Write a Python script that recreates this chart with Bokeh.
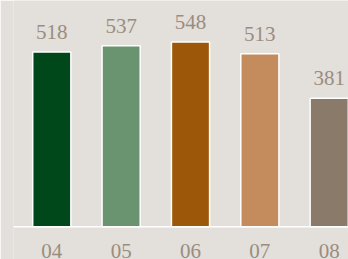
from bokeh.plotting import figure
from bokeh.models import ColumnDataSource, Range1d, Span
from bokeh.core.properties import value
from bokeh.embed import file_html
from bokeh.resources import INLINE

categories = ["04", "05", "06", "07", "08"]
values = [518, 537, 548, 513, 381]
colors = ["#00471A", "#6A9370", "#9C5708", "#C48B5C", "#8A7A69"]

BG = "#E3DFDA"
TXT = "#9A8D80"

xs = list(range(len(categories)))
src = ColumnDataSource(dict(x=xs, top=values, color=colors,
                            label=[str(v) for v in values],
                            cat=categories, zero=[0] * len(values)))

p = figure(width=348, height=259, output_backend="svg", toolbar_location=None,
           x_axis_location=None, y_axis_location=None,
           x_range=Range1d(-0.552, 4.278), y_range=Range1d(-97.0, 671.1),
           min_border_left=13, min_border_right=0, min_border_top=0, min_border_bottom=0)
p.background_fill_color = BG
p.border_fill_color = BG
p.outline_line_color = None
p.grid.visible = False

p.vbar(x="x", top="top", bottom=0, width=0.55, source=src,
       fill_color="color", line_color="white", line_width=1.5)

p.add_layout(Span(location=0, dimension="width", line_color="white", line_width=1.5))

p.text(x="x", y="top", text="label", source=src, text_align="center",
       text_baseline="alphabetic", y_offset=-20,
       text_font=value("Liberation Serif"), text_font_size="21px", text_color=TXT)

p.text(x="x", y="zero", text="cat", source=src, text_align="center",
       text_baseline="alphabetic", y_offset=24,
       text_font=value("Liberation Serif"), text_font_size="21px", text_color=TXT)

html = file_html(p, INLINE)
html = html.replace("<body>", '<body style="background-color:%s;">' % BG, 1)
open("out.html", "w").write(html)
